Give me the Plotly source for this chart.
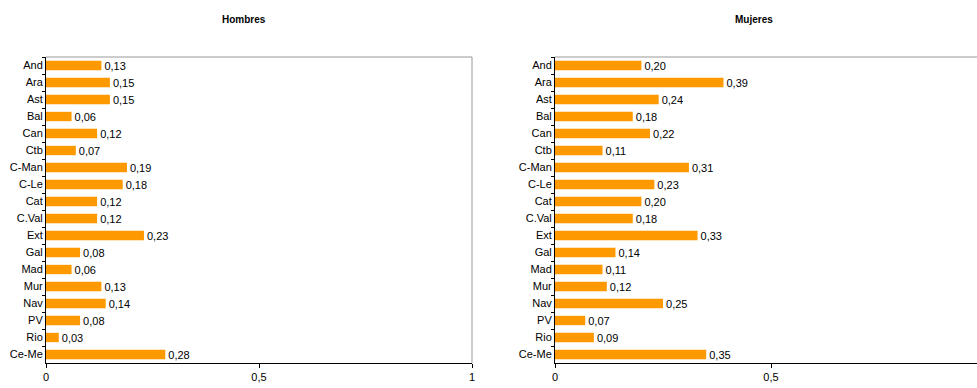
import plotly.graph_objects as go
from plotly.subplots import make_subplots

regiones = ["And", "Ara", "Ast", "Bal", "Can", "Ctb", "C-Man", "C-Le", "Cat",
            "C.Val", "Ext", "Gal", "Mad", "Mur", "Nav", "PV", "Rio", "Ce-Me"]
hombres = [0.13, 0.15, 0.15, 0.06, 0.12, 0.07, 0.19, 0.18, 0.12,
           0.12, 0.23, 0.08, 0.06, 0.13, 0.14, 0.08, 0.03, 0.28]
mujeres = [0.20, 0.39, 0.24, 0.18, 0.22, 0.11, 0.31, 0.23, 0.20,
           0.18, 0.33, 0.14, 0.11, 0.12, 0.25, 0.07, 0.09, 0.35]
titulos = ["Hombres", "Mujeres"]
tick_vals = [0, 0.5, 1]
tick_text = ["0", "0,5", "1"]

W, H = 977, 388
FONT = "Liberation Sans, Arial, sans-serif"
BAR = "#FF9900"

fig = make_subplots(rows=1, cols=2)

def etiqueta(v):
    return f"{v:.2f}".replace(".", ",")

for i, serie in enumerate([hombres, mujeres], start=1):
    fig.add_trace(go.Bar(
        y=regiones, x=serie, orientation="h",
        marker=dict(color=BAR, line=dict(width=0)),
        width=0.55,
        text=[etiqueta(v) for v in serie],
        textposition="outside", cliponaxis=False, constraintext="none",
        textfont=dict(family=FONT, size=11, color="#000"),
        showlegend=False,
    ), row=1, col=i)

# plot areas in pixels
left_dom = (46 / W, 472 / W)
right_dom = (555 / W, 1.0)
px_per_unit_right = 432.0
right_max = (W - 555) / px_per_unit_right

axis_common = dict(
    showgrid=False, zeroline=False, showline=True, linecolor="#000", linewidth=1,
    ticks="outside", ticklen=4, tickcolor="#000",
    tickvals=tick_vals, ticktext=tick_text,
    tickfont=dict(family=FONT, size=11, color="#000"),
    automargin=False,
)
fig.update_xaxes(**axis_common, domain=list(left_dom), range=[0, 1], row=1, col=1)
fig.update_xaxes(**axis_common, domain=list(right_dom), range=[0, right_max], row=1, col=2)

yaxis_common = dict(
    showgrid=False, zeroline=False, showline=True, linecolor="#000", linewidth=1,
    ticks="outside", ticklen=3, tickcolor="#000", tickson="boundaries",
    autorange="reversed", categoryorder="array", categoryarray=regiones,
    tickfont=dict(family=FONT, size=11, color="#000"),
    automargin=False, domain=[0, 1],
)
fig.update_yaxes(**yaxis_common, row=1, col=1)
fig.update_yaxes(**yaxis_common, row=1, col=2)

# grey frame on top / right of the plot areas
shapes = [
    dict(type="line", xref="paper", yref="paper", x0=left_dom[0], x1=left_dom[1],
         y0=1, y1=1, line=dict(color="#999", width=1)),
    dict(type="line", xref="paper", yref="paper", x0=left_dom[1], x1=left_dom[1],
         y0=0, y1=1, line=dict(color="#999", width=1)),
    dict(type="line", xref="paper", yref="paper", x0=right_dom[0], x1=right_dom[1],
         y0=1, y1=1, line=dict(color="#999", width=1)),
]

plot_h = H - 57 - 25

def py(pixel_y):
    return 1 + (57 - pixel_y) / plot_h

annotations = [
    dict(text=f"<b>{titulos[0]}</b>", x=243.5 / W, y=py(20), xref="paper", yref="paper",
         xanchor="center", yanchor="middle", showarrow=False,
         font=dict(family=FONT, size=10, color="#000")),
    dict(text=f"<b>{titulos[1]}</b>", x=753.5 / W, y=py(20), xref="paper", yref="paper",
         xanchor="center", yanchor="middle", showarrow=False,
         font=dict(family=FONT, size=10, color="#000")),
]

fig.update_layout(
    width=W, height=H,
    margin=dict(l=0, r=0, t=57, b=25, pad=0),
    paper_bgcolor="#fff", plot_bgcolor="#fff",
    bargap=0.45, separators=",.",
    shapes=shapes, annotations=annotations,
    font=dict(family=FONT),
)

fig.write_html("out.html")
